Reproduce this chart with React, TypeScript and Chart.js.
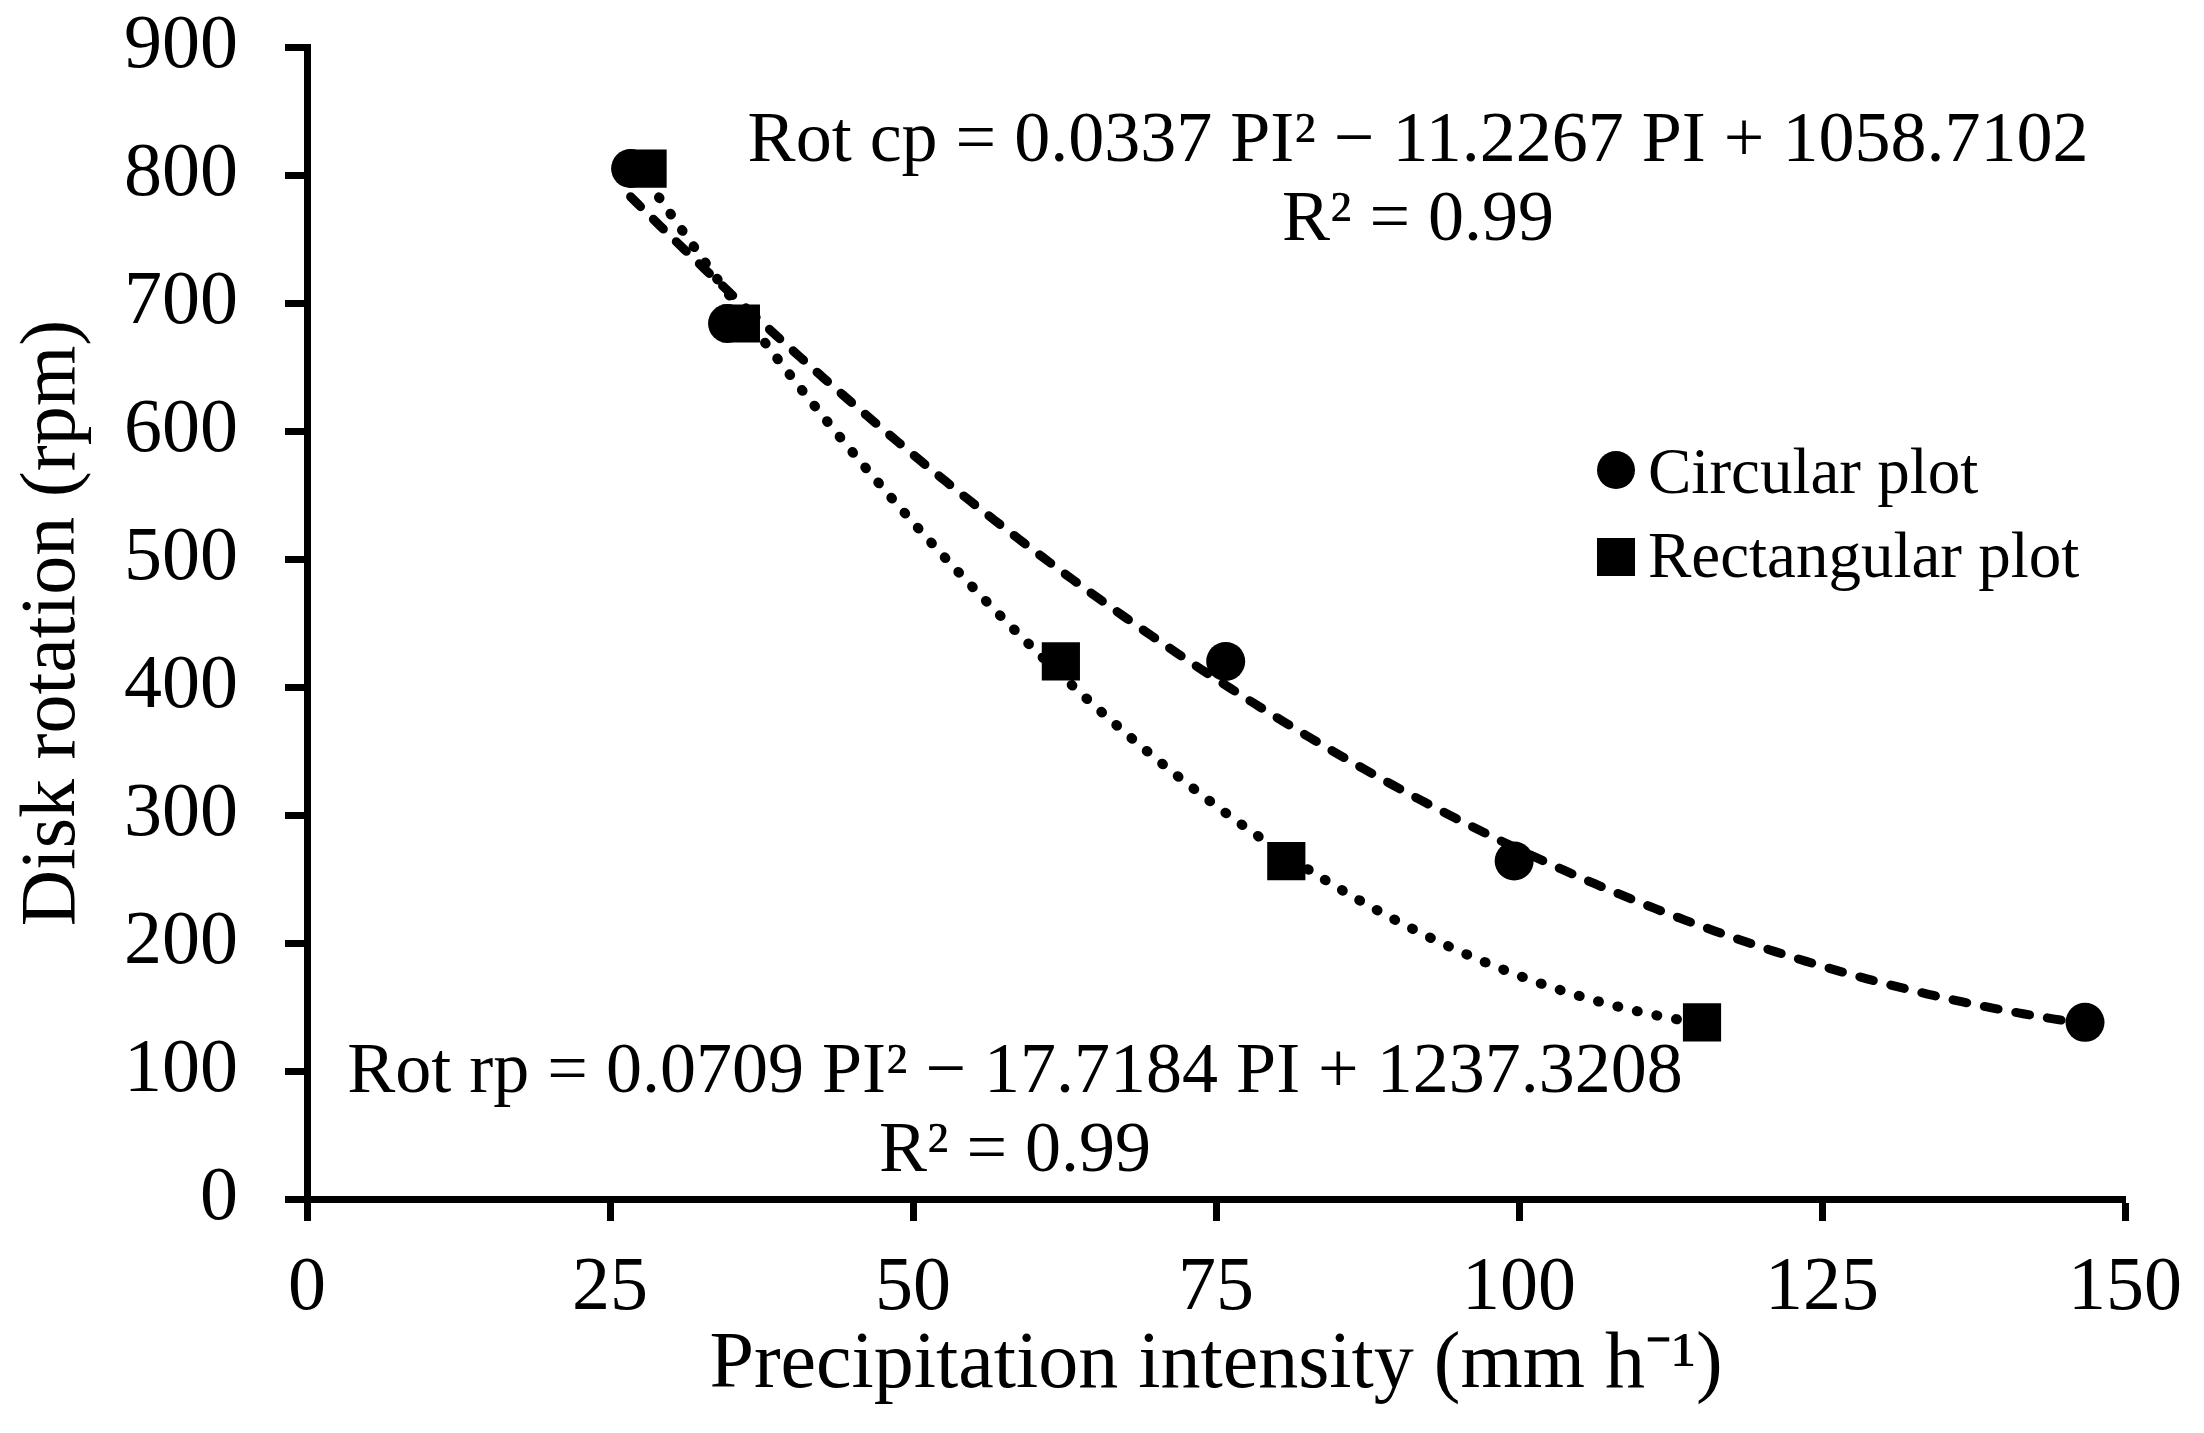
import { useEffect, useRef } from 'react'
import { Chart, registerables } from 'chart.js'

Chart.register(...registerables)

const FONT = '"Liberation Serif", "Times New Roman", serif'

// measured points
const circX = [26.7, 34.7, 75.8, 99.6, 146.7]
const circY = [805, 684, 420, 264, 138]
const rectX = [28.1, 35.8, 62.2, 80.8, 115.1]
const rectY = [805, 684, 420, 264, 138]

// trendline coefficients as printed on the chart: a*PI^2 + b*PI + c
const cpCoef = [0.0337, -11.2267, 1058.7102]
const rpCoef = [0.0709, -17.7184, 1237.3208]

const xTicks = [0, 25, 50, 75, 100, 125, 150]
const yTicks = [0, 100, 200, 300, 400, 500, 600, 700, 800, 900]

const seriesNames = ['Circular plot', 'Rectangular plot']
const eqCp = ['Rot cp = 0.0337 PI² − 11.2267 PI + 1058.7102', 'R² = 0.99']
const eqRp = ['Rot rp = 0.0709 PI² − 17.7184 PI + 1237.3208', 'R² = 0.99']
const xTitle = 'Precipitation intensity (mm h⁻¹)'
const yTitle = 'Disk rotation (rpm)'

function trend(coef: number[], xs: number[]) {
  const lo = Math.min(...xs)
  const hi = Math.max(...xs)
  const pts: { x: number; y: number }[] = []
  for (let x = lo; x < hi; x += 0.5) pts.push({ x, y: coef[0] * x * x + coef[1] * x + coef[2] })
  pts.push({ x: hi, y: coef[0] * hi * hi + coef[1] * hi + coef[2] })
  return pts
}

const textPlugin = {
  id: 'eqText',
  afterDraw(chart: Chart) {
    const ctx = chart.ctx
    ctx.save()
    ctx.fillStyle = '#000'
    ctx.font = `72px ${FONT}`
    ctx.textAlign = 'center'
    ctx.textBaseline = 'alphabetic'
    eqCp.forEach((t, i) => ctx.fillText(t, 1418, 161 + i * 79))
    eqRp.forEach((t, i) => ctx.fillText(t, 1015, 1092 + i * 79))

    // legend
    ctx.font = `65px ${FONT}`
    ctx.textAlign = 'left'
    ctx.beginPath()
    ctx.arc(1616, 470, 19, 0, Math.PI * 2)
    ctx.fill()
    ctx.fillRect(1597, 538, 38, 38)
    ctx.fillText(seriesNames[0], 1648, 493)
    ctx.fillText(seriesNames[1], 1648, 577)
    ctx.restore()
  },
}

export default function App() {
  const canvasRef = useRef<HTMLCanvasElement | null>(null)

  useEffect(() => {
    if (!canvasRef.current) return
    const tick = { size: 76, family: FONT }
    const chart = new Chart(canvasRef.current, {
      type: 'scatter',
      data: {
        datasets: [
          {
            label: seriesNames[1],
            data: rectX.map((x, i) => ({ x, y: rectY[i] })),
            pointStyle: 'rect',
            pointRadius: 27,
            backgroundColor: '#000',
            borderColor: '#000',
            borderWidth: 0,
            order: 0,
          },
          {
            label: seriesNames[0],
            data: circX.map((x, i) => ({ x, y: circY[i] })),
            pointStyle: 'circle',
            pointRadius: 19.5,
            backgroundColor: '#000',
            borderColor: '#000',
            borderWidth: 0,
            order: 1,
          },
          {
            type: 'line',
            label: 'cp trend',
            data: trend(cpCoef, circX),
            borderColor: '#000',
            borderWidth: 9,
            borderDash: [14, 18],
            borderCapStyle: 'round',
            pointRadius: 0,
            fill: false,
            tension: 0,
            order: 2,
          },
          {
            type: 'line',
            label: 'rp trend',
            data: trend(rpCoef, rectX),
            borderColor: '#000',
            borderWidth: 10,
            borderDash: [1, 19],
            borderCapStyle: 'round',
            pointRadius: 0,
            fill: false,
            tension: 0,
            order: 3,
          },
        ],
      },
      options: {
        animation: false,
        responsive: true,
        maintainAspectRatio: false,
        devicePixelRatio: 1,
        events: [],
        layout: { padding: { top: 47, right: 79, left: 0, bottom: 0 } },
        plugins: { legend: { display: false }, tooltip: { enabled: false } },
        scales: {
          x: {
            type: 'linear',
            min: 0,
            max: 150,
            afterBuildTicks: (s: any) => { s.ticks = xTicks.map((v) => ({ value: v })) },
            afterFit: (s: any) => {
              s.height = 234
              s.paddingLeft = 0
              s.paddingRight = 0
            },
            grid: { drawOnChartArea: false, drawTicks: true, tickLength: 22, tickWidth: 7, tickColor: '#000' },
            border: { display: true, color: '#000', width: 7 },
            ticks: { color: '#000', font: tick, padding: 22, maxRotation: 0 },
            title: { display: true, text: xTitle, color: '#000', font: { size: 80, family: FONT }, padding: { top: 0, bottom: 19 } },
          },
          y: {
            type: 'linear',
            min: 0,
            max: 900,
            afterBuildTicks: (s: any) => { s.ticks = yTicks.map((v) => ({ value: v })) },
            afterFit: (s: any) => {
              s.width = 307
              s.paddingTop = 0
              s.paddingBottom = 0
            },
            grid: { drawOnChartArea: false, drawTicks: true, tickLength: 22, tickWidth: 7, tickColor: '#000' },
            border: { display: true, color: '#000', width: 7 },
            ticks: { color: '#000', font: tick, padding: 47 },
            title: { display: true, text: yTitle, color: '#000', font: { size: 78, family: FONT }, padding: { top: 7, bottom: 0 } },
          },
        },
      },
      plugins: [textPlugin],
    })
    return () => chart.destroy()
  }, [])

  return (
    <div style={{ position: 'fixed', left: 0, top: 0, width: 2204, height: 1433, background: '#fff' }}>
      <canvas ref={canvasRef} />
    </div>
  )
}
